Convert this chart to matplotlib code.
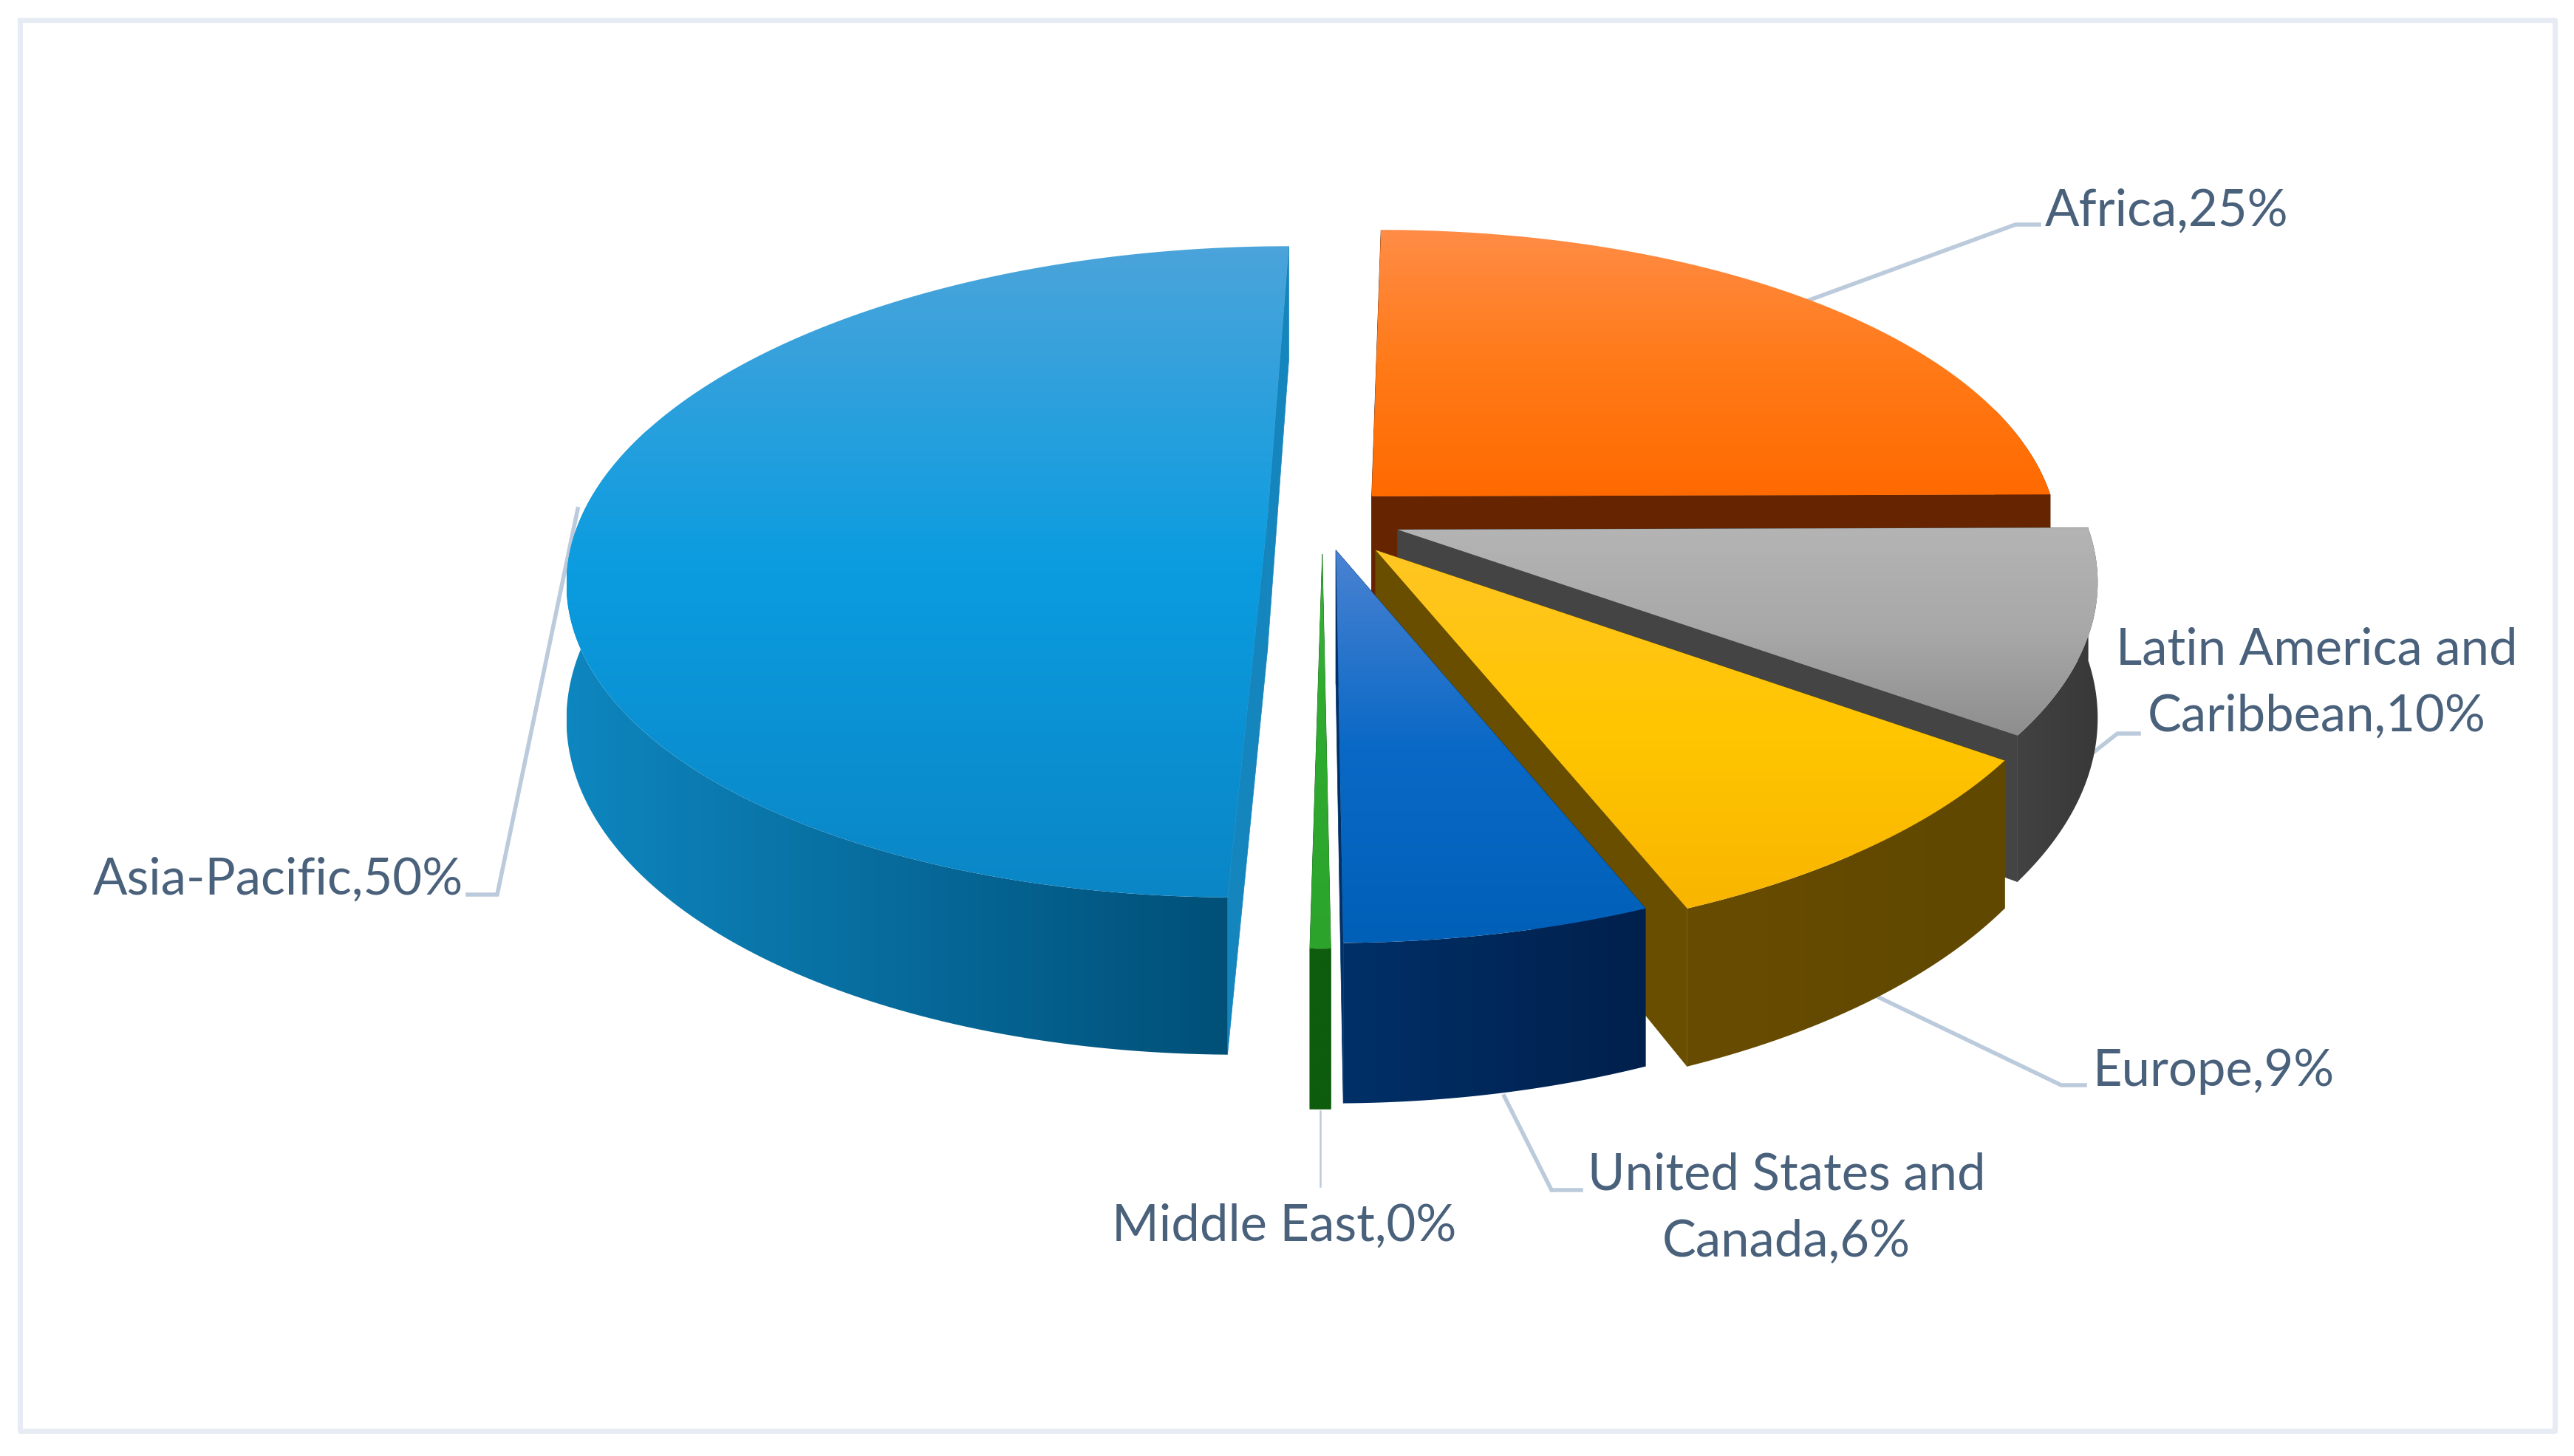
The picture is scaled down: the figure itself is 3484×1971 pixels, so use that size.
import numpy as np
import matplotlib
matplotlib.use("Agg")
import matplotlib.pyplot as plt
from matplotlib.colors import LinearSegmentedColormap
from matplotlib.patches import Polygon

plt.rcParams["font.family"] = ["Lato", "DejaVu Sans"]

# chart data, clockwise from 12 o'clock
regions = ["Africa", "Latin America and\nCaribbean", "Europe", "United States and\nCanada", "Middle East", "Asia-Pacific"]
shares = [25, 10, 9, 6, 0.4, 50]
share_labels = ["25%", "10%", "9%", "6%", "0%", "50%"]

# look of each slice
explode = [0.1, 0.115, 0.125, 0.1, 0.11, 0.08]
lean = [0.06, 0.05, 0.03, 0.015, 0.005, 0.05]
top_colors = [
    ["#ff8c46", "#ff7a18", "#ff6a00"],
    ["#b4b4b4", "#a8a8a8", "#8e8e8e"],
    ["#ffc524", "#ffc600", "#f9b500"],
    ["#4a82d2", "#0a69c6", "#0060b8"],
    ["#38b038", "#2eaa2e", "#2ca42c"],
    ["#4ba4da", "#0a9ce0", "#0a86c6"],
]
wall_colors = [
    ["#662500", "#662500"],
    ["#424242", "#383838"],
    ["#684c00", "#604800"],
    ["#003068", "#00204c"],
    ["#0e5c0e", "#0e5c0e"],
    ["#0e86bf", "#005078"],
]
side_colors = ["#662500", "#444444", "#6a4e00", "#003068", "#0e5c0e", "#1585bd"]
draw_order = [5, 0, 1, 2, 3, 4]

# camera
cx, cy = 1790, 702
rx, ry = 930, 429
persp = 0.164
depth = 178

# label layout, in pixels of the 3484x1971 picture
label_pos = [
    (2768, 286, "left"), (3136, 925, "center"), (2833, 1451, "left"),
    (2418, 1636, "center"), (1505, 1660, "left"), (126, 1191, "left"),
]
leaders = [
    [(2444, 408), (2728, 304), (2760, 304)],
    [(2796, 1048), (2866, 993), (2895, 993)],
    [(2522, 1340), (2790, 1469), (2822, 1469)],
    [(2036, 1484), (2100, 1611), (2140, 1611)],
    [(1787, 1504), (1787, 1606)],
    [(782, 689), (673, 1211), (633, 1211)],
]


def project(x, y, z=0.0, shear=0.0):
    w = 1 - persp * y
    ground = ry * y / w
    return cx + rx * x / w - shear * ground, cy + ground + depth * z / w


def gradient_fill(ax, pts, colors, vertical=True, zorder=2):
    pts = np.array(pts)
    x0, x1 = pts[:, 0].min(), pts[:, 0].max()
    y0, y1 = pts[:, 1].min(), pts[:, 1].max()
    cmap = LinearSegmentedColormap.from_list("g", colors)
    ramp = np.linspace(0, 1, 256)
    ramp = ramp[:, None] if vertical else ramp[None, :]
    im = ax.imshow(ramp, cmap=cmap, extent=(x0, x1, y1, y0), aspect="auto", zorder=zorder, interpolation="bilinear")
    clip = Polygon(pts, closed=True, transform=ax.transData, fc="none", ec="none")
    ax.add_patch(clip)
    im.set_clip_path(clip)


def draw_slice(ax, t1, t2, expl, shear, top, wall, side, zorder):
    mid = (t1 + t2) / 2
    ox, oy = expl * np.sin(mid), -expl * np.cos(mid)
    tt = np.linspace(t1, t2, 200)
    xs, ys = ox + np.sin(tt), oy - np.cos(tt)

    arc_top = [project(x, y, 0, shear) for x, y in zip(xs, ys)]
    arc_low = [project(x, y, 1, shear) for x, y in zip(xs, ys)]
    apex_top, apex_low = project(ox, oy, 0, shear), project(ox, oy, 1, shear)

    # radial faces first, then the part of the rim that faces us, then the top
    for i in (0, -1):
        face = [apex_top, arc_top[i], arc_low[i], apex_low]
        ax.add_patch(Polygon(face, closed=True, fc=side, ec=side, lw=0.5, zorder=zorder))
    front = np.nonzero(-np.cos(tt) >= -0.3)[0]
    if len(front) > 1:
        rim_top = [arc_top[k] for k in front]
        rim_low = [arc_low[k] for k in front]
        gradient_fill(ax, rim_top + rim_low[::-1], wall, vertical=False, zorder=zorder + 0.1)
    gradient_fill(ax, [apex_top] + arc_top, top, zorder=zorder + 0.2)


fig = plt.figure(figsize=(34.84, 19.71), dpi=100)
ax = fig.add_axes([0, 0, 1, 1])

fractions = np.array(shares) / sum(shares)
edges = np.concatenate([[0], np.cumsum(fractions)]) * 2 * np.pi

for rank, i in enumerate(draw_order):
    draw_slice(ax, edges[i], edges[i + 1], explode[i], lean[i], top_colors[i], wall_colors[i], side_colors[i], 2 + rank)

for i, line in enumerate(leaders):
    xs, ys = zip(*line)
    ax.plot(xs, ys, color="#bccbdc", lw=1.8 if i == 4 else 4, solid_joinstyle="miter", zorder=1.5)

for name, val, (x, y, ha) in zip(regions, share_labels, label_pos):
    ax.text(x, y, name + "," + val, ha=ha, va="center", fontsize=49.5, color="#4a617c", linespacing=1.52, zorder=30)

# outer frame of the chart area
ax.plot([27, 3458, 3458, 27, 27], [27, 27, 1937, 1937, 27], color="#e6ebf4", lw=5, zorder=1)

ax.set_xlim(0, 3484)
ax.set_ylim(1971, 0)
ax.axis("off")
fig.savefig("out.png", dpi=100, facecolor="white")
